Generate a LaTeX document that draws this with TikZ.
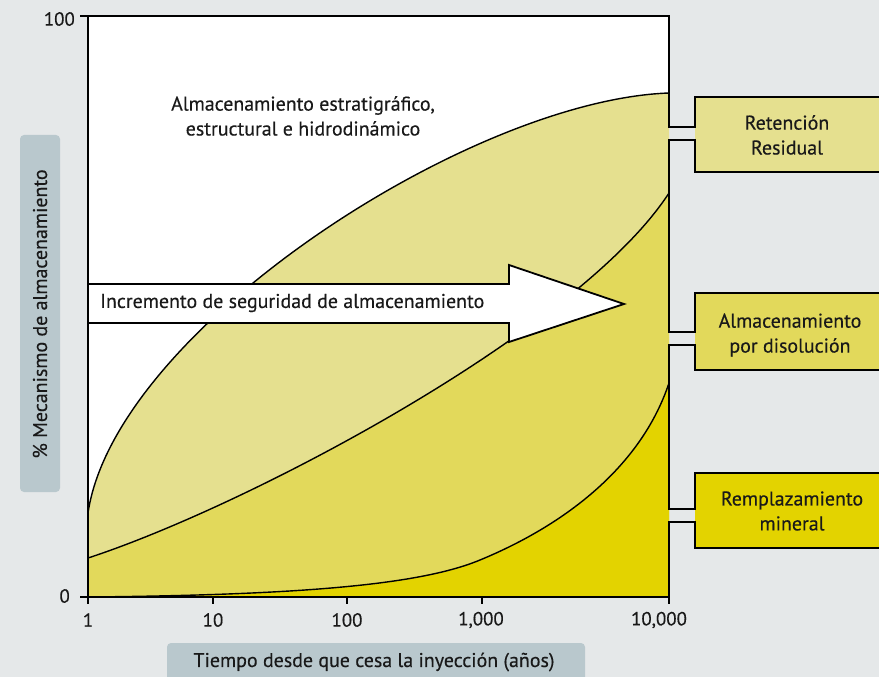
\documentclass[tikz,border=0pt]{standalone}
\usepackage{fontspec}
\setmainfont{PT Sans}[FakeBold=0.35]
\usepackage{tikz}
\definecolor{bggray}{HTML}{E5E8E9}
\definecolor{ylight}{HTML}{E5E08F}
\definecolor{ymid}{HTML}{E2D95B}
\definecolor{ydark}{HTML}{E3D300}
\definecolor{axbox}{HTML}{B9C8CD}

\begin{document}
\begin{tikzpicture}[x=1bp,y=-1bp,
  frame/.style={line width=2.5bp, black, line join=miter},
  curve/.style={line width=1.4bp, black},
  lbl/.style={font=\fontsize{20}{25}\selectfont, text=black!90, align=center, inner sep=0pt},
  ticklbl/.style={font=\fontsize{19}{22}\selectfont, text=black!90, inner sep=0pt}]
\clip (0,0) rectangle (879,677);
\fill[bggray] (0,0) rectangle (879,677);
% axis label boxes
\fill[axbox, rounded corners=4bp] (20,135) rectangle (60,492);
\fill[axbox, rounded corners=4bp] (167,643) rectangle (585,700);
\node[lbl, rotate=90] (ylab) at (40,314) {\% Mecanismo de almacenamiento};
\node[lbl] (xlab) at (374,662) {Tiempo desde que cesa la inyección (años)};
% plot area
\fill[white] (88,16) rectangle (669,597);
\fill[ylight] (88,597) -- (88,513) .. controls (115,330) and (470,100) .. (669,93) -- (669,597) -- cycle;
\fill[ymid] (88,597) -- (88,558) .. controls (250,505) and (580,330) .. (669,193) -- (669,597) -- cycle;
\fill[ydark] (88,597) .. controls (300,595) and (420,585) .. (480,560) .. controls (560,527) and (640,470) .. (669,383) -- (669,597) -- cycle;
\draw[curve] (88,513) .. controls (115,330) and (470,100) .. (669,93);
\draw[curve] (88,558) .. controls (250,505) and (580,330) .. (669,193);
\draw[curve] (88,597) .. controls (300,595) and (420,585) .. (480,560) .. controls (560,527) and (640,470) .. (669,383);
\node[lbl] (estr) at (303,116) {Almacenamiento estratigráfico,\\estructural e hidrodinámico};
% arrow
\draw[line width=1.8bp, fill=white, line join=miter] (88,284) -- (509,284) -- (509,265) -- (624,304) -- (509,342) -- (509,323) -- (88,323) -- cycle;
\node[lbl, anchor=west] (incr) at (100,303) {Incremento de seguridad de almacenamiento};
% boxes
\fill[ylight] (695,97) rectangle (890,172);
\fill[ymid] (695,293) rectangle (890,370);
\fill[ydark] (695,473) rectangle (890,548);
\node[lbl] (ret) at (787,135) {Retención\\Residual};
\node[lbl] (dis) at (790,335) {Almacenamiento\\por disolución};
\node[lbl] (mnr) at (792,511) {Remplazamiento\\mineral};
% frame
\draw[frame] (80,16) -- (669,16) -- (669,127) -- (695,127) -- (695,97) -- (890,97);
\draw[frame] (890,172) -- (695,172) -- (695,140) -- (669,140) -- (669,332) -- (695,332) -- (695,293) -- (890,293);
\draw[frame] (890,370) -- (695,370) -- (695,345) -- (669,345) -- (669,509) -- (695,509) -- (695,473) -- (890,473);
\draw[frame] (890,548) -- (695,548) -- (695,522) -- (669,522) -- (669,597);
\draw[frame] (88,16) -- (88,597);
\draw[frame] (80,597) -- (669,597);
\foreach \x in {88,213,347,482,669}
  \draw[frame] (\x,597) -- (\x,604);
\node[ticklbl, anchor=east] (y100) at (75,19) {100};
\node[ticklbl, anchor=east] (y0) at (70,596) {0};
\foreach \x/\t in {88/1, 213/10, 347/100, 481/{1,000}, 659/{10,000}}
  \node[ticklbl] (x\x) at (\x,620) {\t};
\end{tikzpicture}
\end{document}
